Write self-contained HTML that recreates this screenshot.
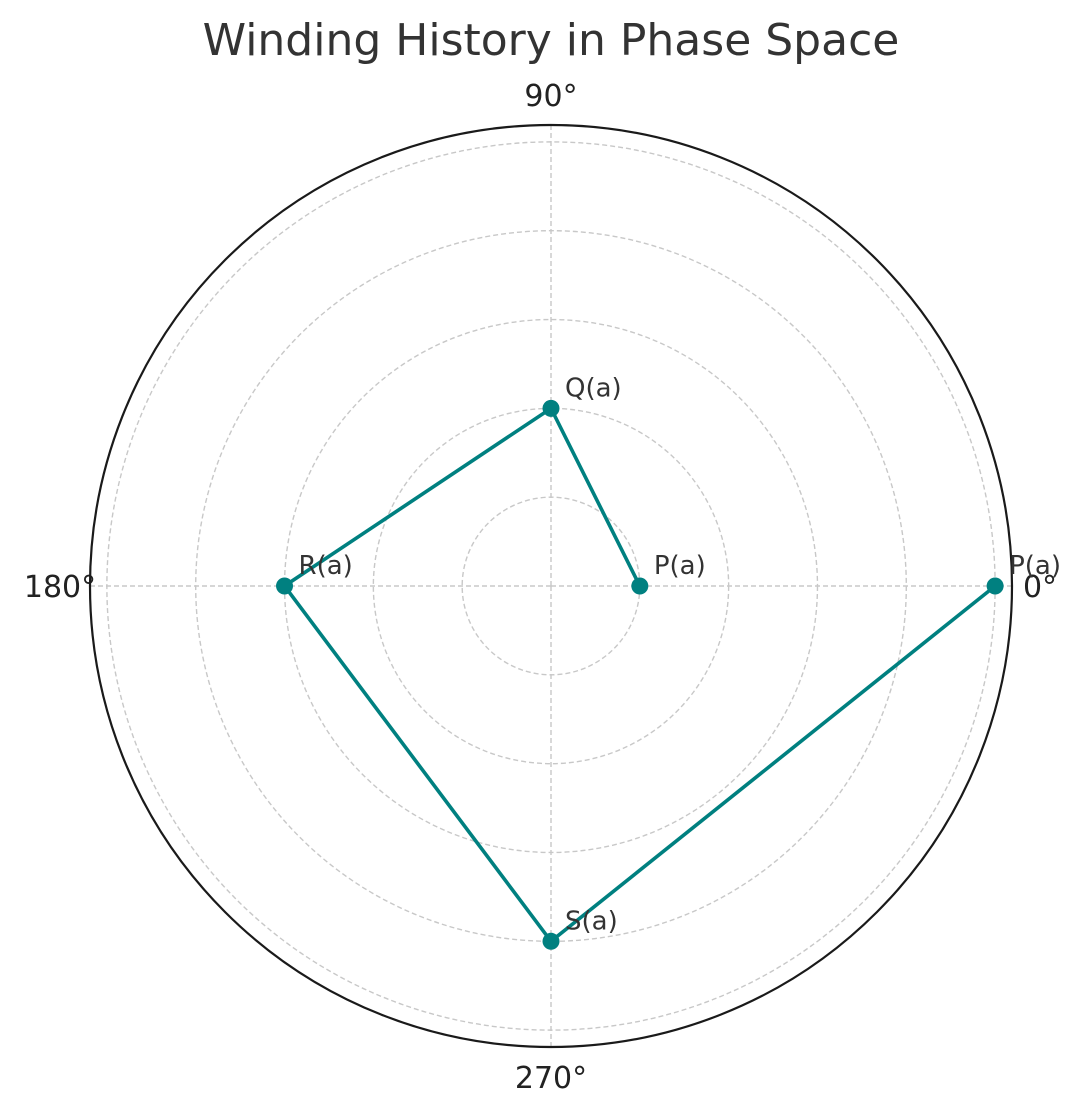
<!DOCTYPE html>
<html><head><meta charset="utf-8"><style>
html,body{margin:0;padding:0;background:#fff;}
svg{display:block;font-family:"DejaVu Sans","Liberation Sans",sans-serif;}
</style></head><body>
<svg id="chart" width="1084" height="1114" viewBox="0 0 1084 1114">
<text x="551" y="55" text-anchor="middle" font-size="44" fill="#333">Winding History in Phase Space</text>
<g id="grid"></g>
<g id="series"></g>
</svg>
<script>
const labels = ["P(a)","Q(a)","R(a)","S(a)","P(a)"];
const anglesDeg = [0,90,180,270,360];
const radii = [1,2,3,4,5];
const rTicks = [1,2,3,4,5];
const thetaTicks = [0,90,180,270];
const thetaTickLabels = ["0°","90°","180°","270°"];

const cx=551, cy=586, R=461, rMax=5.19;
const ns="http://www.w3.org/2000/svg";
function rs(r){return r/rMax*R;}
function pt(r,deg){const a=deg*Math.PI/180;return [cx+rs(r)*Math.cos(a), cy-rs(r)*Math.sin(a)];}
function mk(tag,attrs,parent){const e=document.createElementNS(ns,tag);for(const k in attrs)e.setAttribute(k,attrs[k]);parent.appendChild(e);return e;}
const grid=document.getElementById('grid');
rTicks.forEach(r=>{
  const c=mk('circle',{cx:cx,cy:cy,r:rs(r),fill:'none',stroke:'#c8c8c8','stroke-width':1.4,'stroke-dasharray':'5,3'},grid);
  
  
});
thetaTicks.forEach((t,i)=>{
  const [x,y]=pt(rMax,t);
  const l=mk('line',{x1:cx,y1:cy,x2:x,y2:y,stroke:'#c8c8c8','stroke-width':1.4,'stroke-dasharray':'5,3'},grid);
  
  
  const a=t*Math.PI/180, off=R+30;
  const tx=mk('text',{x:cx+off*Math.cos(a)+(t===0?-2:0),y:cy-off*Math.sin(a)+11,'text-anchor':'middle','font-size':30,fill:'#222'},grid);
  tx.textContent=thetaTickLabels[i];
  
  
});
const outer=mk('circle',{cx:cx,cy:cy,r:R,fill:'none',stroke:'#1a1a1a','stroke-width':2.2},grid);


const s=document.getElementById('series');
const pts=radii.map((r,i)=>pt(r,anglesDeg[i]));
const pl=mk('polyline',{points:pts.map(p=>p.join(',')).join(' '),fill:'none',stroke:'#008080','stroke-width':3.6},s);


pts.forEach((p,i)=>{
  const c=mk('circle',{cx:p[0],cy:p[1],r:8.5,fill:'#008080'},s);
  
  
  const t=mk('text',{x:p[0]+14,y:p[1]-12,'font-size':26,fill:'#333'},s);
  t.textContent=labels[i];
  
  
});
</script>
</body></html>
